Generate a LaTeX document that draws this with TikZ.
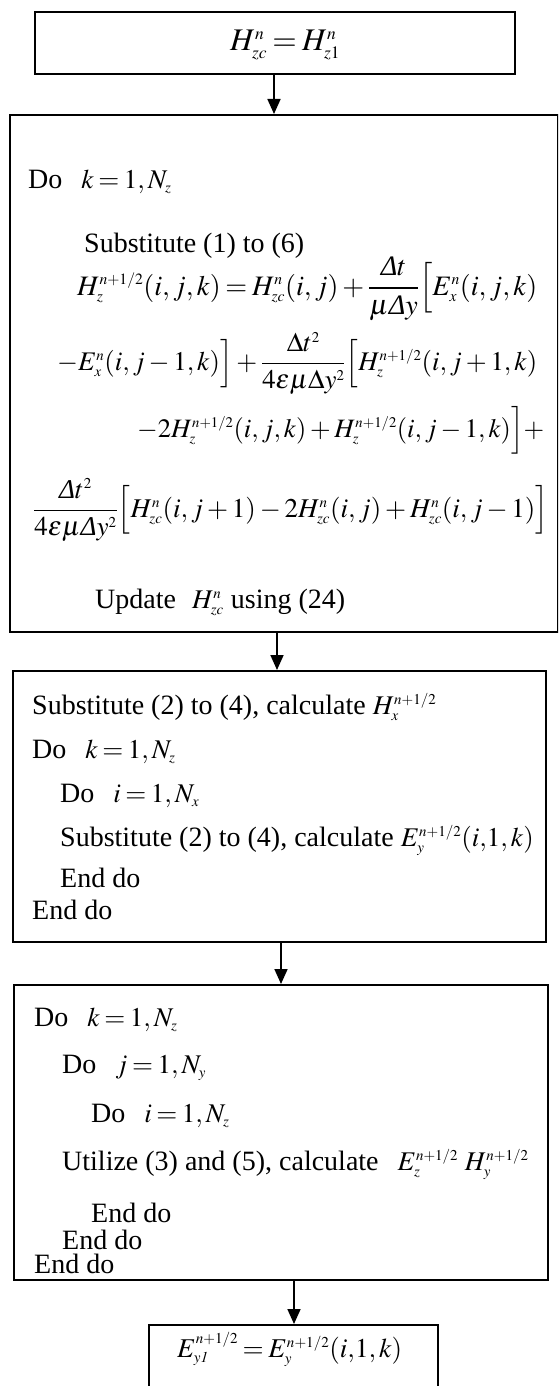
\documentclass[tikz,border=0pt]{standalone}
\usepackage{amsmath}
\usepackage{graphicx}
\usepackage{mathptmx}
\usepackage[no-math]{fontspec}
\setmainfont{Liberation Serif}
\usetikzlibrary{arrows.meta}
\DeclareMathSizes{27}{27}{15}{11}
\newcommand{\mth}[1]{{\fontsize{27}{32}\selectfont\medmuskip=2.5mu\thickmuskip=3mu$#1$}}
\newcommand{\eqw}[2]{\resizebox{#1}{!}{\mth{#2}}}
\newcommand{\iD}{\textit{Δ}}
\newcommand{\gap}{\hspace{19pt}}
\begin{document}
\begin{tikzpicture}[x=1pt,y=-1pt,
  box/.style={draw, line width=1.7pt, inner sep=0pt, anchor=north west},
  txt/.style={anchor=base west, inner sep=0pt, font=\fontsize{28}{34}\selectfont},
  arr/.style={line width=1.7pt, -{Triangle[length=15pt,width=13pt]}}]
\clip (0,0) rectangle (558,1386);
% boxes
\node[box, minimum width=480pt, minimum height=62pt] (b1) at (34,11) {};
\node[box, minimum width=548pt, minimum height=517pt] (b2) at (9,114) {};
\node[box, minimum width=533pt, minimum height=271pt] (b3) at (12,670) {};
\node[box, minimum width=534pt, minimum height=295pt] (b4) at (13,984) {};
\node[box, minimum width=289pt, minimum height=80pt] (b5) at (148,1324) {};
% arrow columns
\coordinate (a1) at (274,0);
\coordinate (a2) at (277,0);
\coordinate (a3) at (281,0);
\coordinate (a4) at (294,0);
\draw[arr] (a1 |- b1.south) -- (a1 |- b2.north);
\draw[arr] (a2 |- b2.south) -- (a2 |- b3.north);
\draw[arr] (a3 |- b3.south) -- (a3 |- b4.north);
\draw[arr] (a4 |- b4.south) -- (a4 |- b5.north);
% box 1
\node[txt] (t1) at (230,51) {\eqw{110pt}{H_{zc}^{n}=H_{z1}^{n}}};
% box 2
\node[txt] (t2a) at (28,188) {Do\gap\mth{k=1,N_z}};
\node[txt] (t2b) at (84,252) {Substitute (1) to (6)};
\node[txt] (t2c) at (77,295) {\eqw{460pt}{H_z^{n+1/2}(i,j,k)=H_{zc}^{n}(i,j)+\dfrac{\iD t}{\mu\iD y}\Bigl[E_x^n(i,j,k)}};
\node[txt] (t2d) at (57,370) {\eqw{480pt}{-E_x^n(i,j-1,k)\Bigr]+\dfrac{\Delta t^2}{4\varepsilon\mu\Delta y^2}\Bigl[H_z^{n+1/2}(i,j+1,k)}};
\node[txt] (t2e) at (137,437) {\eqw{407pt}{-2H_z^{n+1/2}(i,j,k)+H_z^{n+1/2}(i,j-1,k)\Bigr]+}};
\node[txt] (t2f) at (33,517) {\eqw{515pt}{\dfrac{\iD t^2}{4\varepsilon\mu\iD y^2}\Bigl[H_{zc}^n(i,j+1)-2H_{zc}^n(i,j)+H_{zc}^n(i,j-1)\Bigr]}};
\node[txt] (t2g) at (95,608) {Update\hspace{16pt}\mth{H_{zc}^{n}} using (24)};
% box 3
\node[txt] (t3a) at (32,714) {Substitute (2) to (4), calculate \mth{H_x^{n+1/2}}};
\node[txt] (t3b) at (32,758) {Do\gap\mth{k=1,N_z}};
\node[txt] (t3c) at (60,802) {Do\gap\mth{i=1,N_x}};
\node[txt] (t3d) at (60,846) {Substitute (2) to (4), calculate \mth{E_y^{n+1/2}(i{,}1,k)}};
\node[txt] (t3e) at (60,887) {End do};
\node[txt] (t3f) at (32,919) {End do};
% box 4
\node[txt] (t4a) at (34,1026) {Do\gap\mth{k=1,N_z}};
\node[txt] (t4b) at (62,1073) {Do\gap\mth{j=1,N_y}};
\node[txt] (t4c) at (91,1122) {Do\gap\mth{i=1,N_z}};
\node[txt] (t4d) at (62,1170) {Utilize (3) and (5), calculate\gap\mth{E_z^{n+1/2}\ H_y^{n+1/2}}};
\node[txt] (t4e) at (91,1222) {End do};
\node[txt] (t4f) at (62,1249) {End do};
\node[txt] (t4g) at (34,1273) {End do};
% box 5
\node[txt] (t5) at (177,1357) {\eqw{225pt}{E_{y\mathit{1}}^{n+1/2}=E_y^{n+1/2}(i{,}1,k)}};
\end{tikzpicture}
\end{document}
